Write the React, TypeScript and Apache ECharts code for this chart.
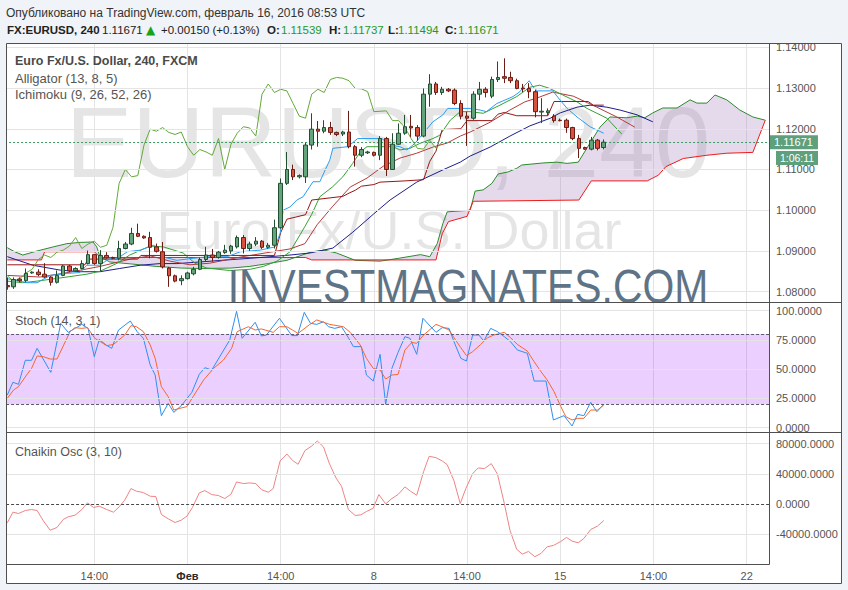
import React, { useEffect, useRef } from "react";
import * as echarts from "echarts";

// ---------------- data ----------------
// bar index -> axis value shift (so that time ticks fall on multiples of 15)
const X_SHIFT = 1;
const X_MAX = 123.6;

// [open, close, low, high], 4h bars
const candles: number[][] = [
  [1.0815, 1.0812, 1.0805, 1.0835], [1.0812, 1.083, 1.0807, 1.0835], [1.0831, 1.0827, 1.0823, 1.0835],
  [1.0827, 1.0845, 1.0823, 1.0857], [1.0846, 1.0848, 1.0844, 1.085], [1.0848, 1.0842, 1.0838, 1.0855],
  [1.0843, 1.0836, 1.0834, 1.087], [1.0836, 1.0823, 1.0815, 1.0838], [1.0823, 1.084, 1.082, 1.0852],
  [1.084, 1.0863, 1.0838, 1.0866], [1.0863, 1.0851, 1.0848, 1.0866], [1.0851, 1.0857, 1.0849, 1.086],
  [1.0857, 1.0869, 1.0855, 1.0877], [1.0869, 1.0891, 1.0867, 1.0901], [1.0891, 1.0869, 1.0866, 1.0892],
  [1.0869, 1.0889, 1.085, 1.0902], [1.0889, 1.0883, 1.0881, 1.0897], [1.0884, 1.0882, 1.088, 1.0886],
  [1.0882, 1.0906, 1.0877, 1.0925], [1.0906, 1.0917, 1.0904, 1.0922], [1.0917, 1.0943, 1.0914, 1.0957],
  [1.0943, 1.0936, 1.0934, 1.0967], [1.0936, 1.0932, 1.093, 1.0938], [1.0933, 1.0909, 1.0882, 1.0947],
  [1.091, 1.0899, 1.0896, 1.0918], [1.0898, 1.0861, 1.0857, 1.0922], [1.0858, 1.0839, 1.0812, 1.0861],
  [1.0839, 1.0826, 1.0823, 1.0842], [1.0827, 1.0832, 1.0816, 1.084], [1.0832, 1.0846, 1.083, 1.0849],
  [1.0844, 1.0855, 1.084, 1.0861], [1.0855, 1.0879, 1.0853, 1.0884], [1.0879, 1.089, 1.0873, 1.091],
  [1.089, 1.0884, 1.0874, 1.0905], [1.0884, 1.0897, 1.0881, 1.09], [1.0896, 1.0902, 1.0893, 1.0915],
  [1.09, 1.0912, 1.0893, 1.0915], [1.091, 1.0933, 1.0906, 1.0938], [1.0933, 1.0906, 1.0894, 1.0939],
  [1.0906, 1.0917, 1.09, 1.0923], [1.0917, 1.0924, 1.0912, 1.0934], [1.0924, 1.0909, 1.0905, 1.0927],
  [1.0909, 1.0914, 1.0905, 1.092], [1.0914, 1.0957, 1.0906, 1.0977], [1.0957, 1.1066, 1.0955, 1.1078],
  [1.1066, 1.11, 1.1062, 1.1143], [1.11, 1.1082, 1.1074, 1.1112], [1.1082, 1.1085, 1.1078, 1.1088],
  [1.1082, 1.116, 1.1067, 1.1166], [1.116, 1.1199, 1.1149, 1.1238], [1.1199, 1.1194, 1.1156, 1.1219],
  [1.1194, 1.1203, 1.1189, 1.1221], [1.1203, 1.1191, 1.1185, 1.1217], [1.1191, 1.1186, 1.1182, 1.1193],
  [1.1187, 1.1192, 1.1182, 1.1195], [1.1192, 1.1156, 1.1152, 1.1244], [1.1156, 1.1135, 1.1107, 1.116],
  [1.1135, 1.1149, 1.113, 1.1155], [1.1141, 1.1143, 1.1138, 1.1146], [1.1142, 1.1135, 1.1132, 1.1144],
  [1.1135, 1.1176, 1.1123, 1.1182], [1.1176, 1.11, 1.1084, 1.118], [1.11, 1.1162, 1.1099, 1.1189],
  [1.1162, 1.1189, 1.116, 1.1213], [1.1189, 1.1205, 1.1185, 1.1234], [1.1206, 1.1202, 1.118, 1.1234],
  [1.1203, 1.1182, 1.1171, 1.1209], [1.1182, 1.1285, 1.1179, 1.1299], [1.1285, 1.131, 1.1254, 1.1334],
  [1.131, 1.1289, 1.1283, 1.1315], [1.1289, 1.1297, 1.1283, 1.1303], [1.1297, 1.1293, 1.129, 1.13],
  [1.1295, 1.1262, 1.1258, 1.1299], [1.1262, 1.1231, 1.1223, 1.127], [1.1231, 1.1226, 1.1158, 1.1242],
  [1.1226, 1.1285, 1.1222, 1.1292], [1.1285, 1.1297, 1.127, 1.1315], [1.1297, 1.1289, 1.1277, 1.1302],
  [1.128, 1.1321, 1.1275, 1.1328], [1.1321, 1.1326, 1.1315, 1.1365], [1.1328, 1.1324, 1.1312, 1.1373],
  [1.1326, 1.1318, 1.1312, 1.134], [1.1318, 1.1299, 1.1297, 1.1323], [1.13, 1.1298, 1.129, 1.131],
  [1.1299, 1.1291, 1.1275, 1.1312], [1.1291, 1.1242, 1.1228, 1.1295], [1.1241, 1.1243, 1.1214, 1.1275],
  [1.124, 1.1244, 1.1232, 1.125], [1.1231, 1.122, 1.1215, 1.1236], [1.1221, 1.122, 1.1218, 1.1225],
  [1.1221, 1.1203, 1.119, 1.1225], [1.1203, 1.1176, 1.1172, 1.1205], [1.1176, 1.1152, 1.1128, 1.1185],
  [1.1154, 1.115, 1.1148, 1.1156], [1.115, 1.1172, 1.1147, 1.118], [1.1172, 1.1152, 1.1147, 1.1175],
  [1.11539, 1.11671, 1.11494, 1.11737],
];

// Ichimoku (9, 26, 52, 26): [bar index, price]
const tenkan: number[][] = [
  [0, 1.0832], [3.2, 1.0822], [4.8, 1.0822], [6.9, 1.084], [9.6, 1.0845], [11.7, 1.0847], [12.8, 1.0865],
  [14.9, 1.0865], [16.5, 1.0882], [17.8, 1.0882], [19.3, 1.0898], [21.4, 1.0902], [23.5, 1.0914], [24.1, 1.091],
  [25.1, 1.0885], [27.3, 1.0877], [29.9, 1.0882], [32.6, 1.0886], [35.4, 1.0886], [37.5, 1.0898], [40.7, 1.0902],
  [43.1, 1.091], [43.9, 1.0943], [44.4, 1.1], [45.5, 1.1008], [46.6, 1.1025], [47.6, 1.1033], [49.2, 1.107],
  [50.3, 1.107], [51.9, 1.1123], [52.4, 1.1152], [54.8, 1.1156], [56.4, 1.1176], [60.3, 1.1176], [61.6, 1.116],
  [63.2, 1.1156], [64.3, 1.1148], [65.6, 1.1164], [68.5, 1.1217], [70.1, 1.1234], [70.9, 1.125], [74.5, 1.125],
  [76.1, 1.1246], [77.1, 1.1242], [78.8, 1.1262], [81.4, 1.1279], [82.5, 1.1291], [83.3, 1.1307], [84, 1.1318],
  [84.6, 1.1303], [85.3, 1.1293], [87.8, 1.1293], [89, 1.127], [90.1, 1.125], [91.7, 1.1229], [93.8, 1.1205],
  [94.9, 1.1197], [96, 1.1189],
];
const kijun: number[][] = [
  [0, 1.0866], [12.5, 1.0866], [13, 1.088], [21, 1.088], [21.5, 1.0889], [43, 1.0889], [44, 1.0945], [45, 1.0978],
  [48, 1.0989], [49, 1.1025], [54, 1.1034], [55, 1.1042], [56, 1.1049], [57, 1.1059], [59, 1.1063], [60, 1.1069],
  [64, 1.1072], [67, 1.1075], [68, 1.112], [69, 1.1145], [70, 1.1198], [73, 1.12], [74, 1.122], [78, 1.122],
  [79, 1.1236], [80, 1.124], [82, 1.1232], [87, 1.1232], [88, 1.1267], [93.5, 1.1267], [94.3, 1.1258], [96, 1.1258],
];
const spanA: number[][] = [
  [0, 1.0908], [1.2, 1.0898], [2.5, 1.089], [4.8, 1.09], [7.4, 1.091], [9.6, 1.0918], [11.7, 1.0921], [13.8, 1.0922],
  [14.4, 1.091], [14.9, 1.0886], [16.5, 1.0873], [20, 1.0868], [24, 1.0862], [28, 1.0858], [31, 1.0857], [36, 1.0858],
  [39, 1.0862], [42, 1.0869], [45, 1.0877], [49, 1.0898], [51, 1.0902], [53, 1.0895], [56, 1.0877], [60, 1.0875],
  [63, 1.0882], [66.5, 1.0891], [68, 1.0886], [69.2, 1.0918], [70.1, 1.0967], [70.8, 1.0996], [74.5, 1.1],
  [75.3, 1.1047], [76.6, 1.105], [78, 1.1066], [79, 1.1089], [80.6, 1.1094], [82, 1.1103], [82.8, 1.1111],
  [86.2, 1.1116], [88.5, 1.1118], [90.1, 1.1115], [91.9, 1.1118], [93.8, 1.1165], [95.4, 1.1204], [97, 1.1229],
  [99.7, 1.1227], [101.4, 1.1231], [102.6, 1.1227], [103.9, 1.1239], [105.5, 1.1251], [107.8, 1.1251],
  [109.9, 1.1271], [111, 1.1263], [112.6, 1.1263], [113.9, 1.1283], [115.8, 1.1271], [117.9, 1.1246],
  [120, 1.1229], [122, 1.1221],
];
const spanB: number[][] = [
  [0, 1.0878], [5.5, 1.0878], [6, 1.0898], [14, 1.0898], [15, 1.0884], [48, 1.0884], [49, 1.0878], [69, 1.0878],
  [70, 1.0942], [71, 1.0972], [74, 1.0985], [75, 1.1022], [92, 1.1025], [94, 1.1072], [103, 1.1072],
  [104.8, 1.1086], [106, 1.1107], [108.8, 1.1127], [112.6, 1.1135], [115.8, 1.114], [120, 1.1142], [122, 1.1221],
];

// Alligator (13, 8, 5)
const jaw: number[][] = [
  [0, 1.0886], [4.1, 1.0865], [8.5, 1.0853], [11.7, 1.0849], [14.9, 1.0849], [18.1, 1.0857], [21.4, 1.0865],
  [24.6, 1.0869], [27.3, 1.0869], [31, 1.0873], [36.3, 1.0879], [39.1, 1.0882], [42.3, 1.0886], [45.5, 1.089],
  [48.7, 1.0895], [52.4, 1.0907], [55.6, 1.0946], [58.9, 1.099], [61.6, 1.1025], [65.9, 1.1069], [70.1, 1.1099],
  [72.9, 1.1118], [74.5, 1.1133], [77.7, 1.1155], [80.9, 1.1182], [84.1, 1.1207], [87.4, 1.1226], [89, 1.1239],
  [91.7, 1.1253], [93.8, 1.1258], [96.5, 1.1253], [98.6, 1.1246], [101.4, 1.1234], [103.9, 1.1217],
];
const teeth: number[][] = [
  [0, 1.084], [5.3, 1.0836], [10.1, 1.0848], [14.9, 1.0862], [19.8, 1.088], [23, 1.0888], [26.2, 1.0875],
  [29.4, 1.0866], [32.6, 1.087], [37.5, 1.0885], [42.3, 1.0897], [45.5, 1.0905], [47.9, 1.0918], [49.9, 1.0965],
  [52.4, 1.101], [55.2, 1.1057], [57.9, 1.1079], [60.5, 1.1108], [63.2, 1.1128], [65.9, 1.114], [68.5, 1.1155],
  [70.8, 1.1165], [72.9, 1.1182], [74.5, 1.1192], [77.7, 1.1216], [80.9, 1.1246], [83.3, 1.1266], [85.7, 1.1278],
  [87.8, 1.129], [91.1, 1.128], [94.9, 1.1253], [98.1, 1.1229], [101, 1.1204],
];
const lips: number[][] = [
  [0, 1.0826], [2.5, 1.0822], [4.8, 1.0826], [7.7, 1.0832], [9.6, 1.0836], [12.8, 1.0843], [14.9, 1.085],
  [17.7, 1.087], [19.7, 1.089], [23, 1.0912], [25.1, 1.091], [28.3, 1.0895], [30.2, 1.087], [32.1, 1.0858],
  [35.8, 1.0852], [39.1, 1.0855], [41.2, 1.0862], [43.4, 1.0875], [45.5, 1.0898], [47.9, 1.096], [49, 1.099],
  [50.3, 1.1033], [52.4, 1.1058], [54, 1.1082], [55.6, 1.1115], [56.8, 1.1143], [57.9, 1.1156], [62.1, 1.1156],
  [63.2, 1.1148], [64.8, 1.1152], [66.4, 1.1164], [68.5, 1.1176], [69.6, 1.1184], [71.3, 1.1221], [72.9, 1.1242],
  [74.5, 1.1242], [76.6, 1.1238], [79.3, 1.1258], [82, 1.1279], [84.1, 1.1302], [85.7, 1.1307], [87.3, 1.1299],
  [89.4, 1.1283], [91.7, 1.1266], [93.3, 1.125], [94.9, 1.1238], [96.5, 1.1226], [98.9, 1.1187],
];

// Stoch (14, 3, 1)
const stochK: number[][] = [
  [0, 27.9], [0.9, 38.8], [1.8, 37.1], [2.9, 57.6], [3.9, 57.6], [4.8, 67.8], [7, 47.3], [8.6, 89.2], [9.8, 81.5],
  [12, 88.3], [13, 84.9], [14, 60.7], [14.8, 75.5], [15.9, 70.7], [16.8, 67.8], [17.9, 83.5], [19.8, 91.2],
  [20.9, 82.1], [21.9, 76.4], [23, 53.6], [23.8, 45], [24.8, 10.3], [25.9, 20.8], [26.8, 13.1], [28.1, 19.4],
  [29.7, 30.2], [30.9, 45.6], [31.8, 51.3], [32.9, 49.3], [35.8, 74.9], [36.9, 99.5], [37.8, 76.4], [39.9, 90.1],
  [40.9, 78.4], [41.7, 79.2], [43.8, 93.5], [45.8, 78.7], [46.7, 78.7], [47.8, 98.6], [48.8, 89.2], [49.8, 88.3],
  [50.9, 90.6], [51.7, 86.3], [52.7, 84.9], [53.8, 86.3], [54.9, 76.9], [55.7, 69.3], [57, 69.3], [57.8, 45],
  [58.9, 39.9], [60, 62.7], [60.9, 20], [61.9, 50.7], [62.9, 64.4], [64, 77.8], [64.8, 76.4], [65.9, 62.7],
  [66.9, 93.5], [69, 81.5], [70, 85.5], [71.1, 84.9], [71.9, 73.5], [73, 59.3], [73.9, 57], [74.9, 79.2],
  [75.9, 79.2], [76.7, 74.1], [77.8, 84.9], [78.9, 82.1], [80, 77.8], [81, 73.5], [82.1, 66.4], [83.7, 63.6],
  [84.8, 39.9], [86.7, 39.9], [87.9, 6.6], [89.6, 10.3], [90.9, 1.5], [91.8, 11.4], [92.8, 10.3], [93.9, 21.7],
  [94.9, 13.7], [96, 20],
];
const stochD: number[][] = [
  [0, 25.1], [1, 32.2], [1.8, 35.1], [3.1, 45], [3.9, 50.7], [4.8, 61.3], [5.8, 60.7], [6.9, 58.7], [8, 58.7],
  [10.1, 82.1], [10.9, 85.5], [12, 84.9], [12.9, 85.5], [14.1, 76.4], [16, 70.1], [17.1, 71.2], [18.9, 79.2],
  [19.9, 87.2], [20.8, 86.3], [21.9, 82.1], [23, 70.7], [23.8, 59.3], [24.8, 35.1], [25.9, 26.5], [26.8, 15.1],
  [27.8, 16.6], [28.9, 18], [29.9, 26.5], [31.6, 40.8], [33.2, 50.7], [34.8, 57.9], [36.1, 67.8], [37, 82.1],
  [38.8, 86.3], [39.9, 83.5], [40.9, 84.4], [42.8, 81.5], [43.8, 86.3], [45, 86.3], [45.9, 83.5], [46.8, 80.6],
  [48.7, 88.3], [49.8, 92.1], [50.9, 90.1], [51.9, 88.3], [54.1, 86.3], [55.2, 81.5], [56.8, 70.7], [57.8, 59.3],
  [58.9, 50.7], [60, 49.3], [60.9, 41.6], [61.9, 45], [62.9, 45.6], [64, 66.4], [65.1, 72.9], [65.9, 72.1],
  [67, 79.2], [69, 88.3], [70.3, 85.5], [71.1, 83.5], [71.9, 76.9], [73, 68.4], [73.9, 61.6], [74.9, 65],
  [76.2, 71.2], [77.3, 76.9], [78.3, 79.2], [80, 81.5], [81, 76.9], [82.1, 71.2], [83.7, 65.5], [84.8, 56.4],
  [85.9, 47.9], [86.9, 40.8], [88, 30.8], [89.1, 18], [89.9, 9.4], [90.9, 6.6], [91.8, 8], [92.8, 8], [93.9, 15.1],
  [95, 15.1], [96, 19.4],
];

// Chaikin Osc (3, 10)
const chaikin: number[][] = [
  [0, -24640], [0.9, -10560], [1.8, -12320], [2.9, -8360], [3.9, -7040], [4.8, -8360], [5.8, -22000],
  [6.9, -34320], [8, -30800], [9, -20240], [9.8, -16720], [10.9, -14520], [12, -7040], [12.9, 1760],
  [13.9, -4400], [14.8, -2640], [16, -7040], [17.1, -10560], [18, -3520], [18.9, 5280], [19.9, 20680],
  [20.8, 17160], [21.9, 15400], [23, 10560], [23.9, 10120], [24.8, -13640], [25.9, -19360], [27, -24200],
  [28, -21120], [28.9, -15840], [29.8, -4400], [30.9, 14960], [31.8, 18040], [32.9, 12760], [34, 11440],
  [35, 7480], [36, 13200], [36.9, 29480], [38, 27280], [39, 28160], [40, 27280], [40.9, 19360], [42, 15840],
  [42.8, 20680], [43.9, 57200], [45, 66440], [45.9, 58080], [46.8, 52800], [47.9, 70840], [49, 77000],
  [49.9, 83600], [50.9, 75680], [51.8, 54560], [52.9, 34760], [53.8, 23760], [54.9, -7040], [56, -14960],
  [56.9, -14080], [57.8, -9680], [58.9, -5280], [59.8, 12760], [60.9, 440], [61.9, 7480], [62.9, 12760],
  [64, 22880], [64.9, 17160], [65.9, 11880], [67, 43000], [67.9, 63360], [69, 61600], [70, 57200],
  [70.8, 52360], [71.9, 30800], [72.9, 880], [73.8, 20680], [74.9, 40480], [75.8, 47960], [76.8, 47080],
  [77.9, 53680], [78.9, 39600], [80, 880], [80.9, -34320], [82, -59840], [82.9, -66000], [83.9, -62480],
  [84.9, -69520], [85.9, -65120], [86.9, -56320], [87.9, -54560], [89, -49720], [90, -44000], [90.9, -48840],
  [91.9, -51040], [92.8, -45320], [93.9, -33440], [95, -29040], [96, -21560],
];

const priceTicks = [1.08, 1.09, 1.1, 1.11, 1.12, 1.13, 1.14];
const stochTicks = [0, 25, 50, 75, 100];
const chaikinTicks = [-40000, 0, 40000, 80000];
const timeTickBars = [14, 29, 44, 59, 74, 89, 104, 119];
const timeTickLabels = ["14:00", "Фев", "14:00", "8", "14:00", "15", "14:00", "22"];
const lastPrice = 1.11671;

// ---------------- styling ----------------
const FONT = "'Liberation Sans', Arial, Helvetica, sans-serif";
const BG = "#f0f3f7";
const GRID_COLOR = "#e4e4e4";
const FRAME = "#4f4f4f";
const AXIS_TEXT = "#555555";
const PRICE_GREEN = "#5e9f7c";

const shift = (pts: number[][]) => pts.map(([i, v]) => [i + X_SHIFT, v]);

function lineSeries(pts: number[][], color: string, xi: number, yi: number, z = 3) {
  return {
    type: "line",
    xAxisIndex: xi,
    yAxisIndex: yi,
    data: shift(pts),
    symbol: "none",
    showSymbol: false,
    silent: true,
    z,
    lineStyle: { color, width: 1 },
    itemStyle: { color },
  };
}

function gridLineSeries(xi: number, yi: number, values: number[], extra: any[] = [], area?: any) {
  const s: any = {
    type: "line",
    xAxisIndex: xi,
    yAxisIndex: yi,
    data: [],
    silent: true,
    z: 0,
    symbol: "none",
    markLine: {
      symbol: ["none", "none"],
      silent: true,
      precision: 6,
      label: { show: false },
      lineStyle: { color: GRID_COLOR, width: 1, type: "solid" },
      data: [...values.map((v) => ({ yAxis: v })), ...extra],
    },
  };
  if (area) s.markArea = area;
  return s;
}

function xAxis(gi: number, showLabels: boolean) {
  return {
    type: "value",
    gridIndex: gi,
    min: 0,
    max: X_MAX,
    interval: 15,
    axisLine: { show: false },
    axisTick: { show: false },
    axisLabel: showLabels
      ? {
          show: true,
          color: AXIS_TEXT,
          fontSize: 11,
          fontFamily: FONT,
          margin: 6,
          showMaxLabel: false,
          formatter: (v: number) => {
            const k = timeTickBars.indexOf(Math.round(v) - X_SHIFT);
            if (k < 0) return "";
            const t = timeTickLabels[k];
            return t === "Фев" ? "{m|" + t + "}" : t;
          },
          rich: { m: { color: "#2a2a2a", fontWeight: "bold", fontSize: 11, fontFamily: FONT } },
        }
      : { show: false },
    splitLine: {
      show: true,
      showMinLine: false,
      showMaxLine: false,
      lineStyle: { color: GRID_COLOR, width: 1 },
    },
  };
}

function yAxis(gi: number, min: number, max: number, ticks: number[], digits: number) {
  return {
    type: "value",
    gridIndex: gi,
    position: "right",
    min,
    max,
    axisLine: { show: false },
    splitLine: { show: false },
    axisTick: { show: true, customValues: ticks, length: 4, lineStyle: { color: AXIS_TEXT } },
    axisLabel: {
      show: true,
      customValues: ticks,
      color: AXIS_TEXT,
      fontSize: 11,
      fontFamily: FONT,
      margin: 7,
      formatter: (v: number) => v.toFixed(digits),
    },
  };
}

function txt(x: number, y: number, text: string, opts: any = {}) {
  return {
    type: "text",
    x,
    y,
    z: opts.z ?? 60,
    silent: true,
    scaleX: opts.scaleX ?? 1,
    style: {
      text,
      fill: opts.fill ?? "#333",
      fontSize: opts.fontSize ?? 12,
      fontFamily: opts.fontFamily ?? FONT,
      fontWeight: opts.fontWeight ?? "normal",
      align: opts.align ?? "left",
      textAlign: opts.align ?? "left",
      verticalAlign: "middle",
      textVerticalAlign: "middle",
    },
  };
}

function hline(x1: number, x2: number, y: number) {
  return { type: "line", z: 70, silent: true, shape: { x1, y1: y, x2, y2: y }, style: { stroke: FRAME, lineWidth: 1 } };
}
function vline(x: number, y1: number, y2: number) {
  return { type: "line", z: 70, silent: true, shape: { x1: x, y1, x2: x, y2 }, style: { stroke: FRAME, lineWidth: 1 } };
}

export default function App() {
  const ref = useRef<HTMLDivElement>(null);

  useEffect(() => {
    if (!ref.current) return;
    const chart = echarts.init(ref.current, null, { renderer: "svg", width: 848, height: 590 });

    const chikou = candles.slice(26).map((c, k) => [k, c[1]]);
    const green = "#1f9a1f";

    const graphic: any[] = [
      { type: "rect", z: -100, silent: true, shape: { x: 6.5, y: 43.5, width: 835, height: 540 }, style: { fill: "#ffffff" } },
      txt(388, 142, "EURUSD, 240", { fontSize: 100, fill: "rgba(0,0,0,0.1)", align: "center", z: -50 }),
      txt(389, 229.5, "Euro Fx/U.S. Dollar", { fontSize: 54, fill: "rgba(0,0,0,0.1)", align: "center", z: -50 }),
      txt(468, 286, "INVESTMAGNATES.COM", { fontSize: 49, fill: "#5e7385", align: "center", z: 40, scaleX: 0.834 }),
      // left mask (outside the frame)
      { type: "rect", z: 65, silent: true, shape: { x: 0, y: 40, width: 6, height: 550 }, style: { fill: BG } },
      // frame and pane separators
      hline(6.5, 841.5, 43.5),
      hline(6.5, 841.5, 583.5),
      vline(6.5, 43.5, 583.5),
      vline(841.5, 43.5, 583.5),
      hline(6.5, 841.5, 302.5),
      hline(6.5, 841.5, 432.5),
      vline(769.5, 43.5, 564.5),
      hline(6.5, 769.5, 564.5),
      // pane legends
      txt(15, 61, "Euro Fx/U.S. Dollar, 240, FXCM", { fontSize: 12.5, fontWeight: "bold", fill: "#4a4a4a" }),
      txt(15, 78, "Alligator (13, 8, 5)", { fontSize: 13, fill: "#555" }),
      txt(15, 94.5, "Ichimoku (9, 26, 52, 26)", { fontSize: 13, fill: "#555" }),
      txt(15, 321, "Stoch (14, 3, 1)", { fontSize: 12.5, fill: "#555" }),
      txt(15, 451.5, "Chaikin Osc (3, 10)", { fontSize: 12.5, fill: "#555" }),
      // header
      txt(6, 12.5, "Опубликовано на TradingView.com, февраль 16, 2016 08:53 UTC", { fontSize: 12, fill: "#333" }),
      txt(7, 29.5, "FX:EURUSD, 240", { fontSize: 11.5, fontWeight: "bold", fill: "#222" }),
      txt(102, 29.5, "1.11671", { fontSize: 11.5, fill: "#222" }),
      txt(146, 29.5, "▲", { fontSize: 12, fill: "#19a319", fontFamily: "'DejaVu Sans', sans-serif" }),
      txt(161, 29.5, "+0.00150 (+0.13%)", { fontSize: 11.5, fill: "#222" }),
      txt(267, 29.5, "O:", { fontSize: 11.5, fontWeight: "bold", fill: "#222" }),
      txt(281, 29.5, "1.11539", { fontSize: 11.5, fill: green }),
      txt(329, 29.5, "H:", { fontSize: 11.5, fontWeight: "bold", fill: "#222" }),
      txt(343, 29.5, "1.11737", { fontSize: 11.5, fill: green }),
      txt(388, 29.5, "L:", { fontSize: 11.5, fontWeight: "bold", fill: "#222" }),
      txt(398, 29.5, "1.11494", { fontSize: 11.5, fill: green }),
      txt(445, 29.5, "C:", { fontSize: 11.5, fontWeight: "bold", fill: "#222" }),
      txt(458, 29.5, "1.11671", { fontSize: 11.5, fill: green }),
      // countdown box
      { type: "rect", z: 70, silent: true, shape: { x: 776, y: 151, width: 42, height: 14 }, style: { fill: PRICE_GREEN } },
      txt(797, 158, "1:06:11", { fontSize: 10.5, fill: "#ffffff", align: "center", z: 71 }),
    ];

    const option: any = {
      animation: false,
      backgroundColor: BG,
      grid: [
        { left: 1.09, top: 43, width: 767.91, height: 259.5, outerBoundsMode: "none" },
        { left: 1.09, top: 303, width: 767.91, height: 129.5, outerBoundsMode: "none" },
        { left: 1.09, top: 433, width: 767.91, height: 131.5, outerBoundsMode: "none" },
      ],
      xAxis: [xAxis(0, false), xAxis(1, false), xAxis(2, true)],
      yAxis: [
        yAxis(0, 1.077346, 1.141057, priceTicks, 5),
        yAxis(1, -4.1, 106.58, stochTicks, 4),
        yAxis(2, -79777, 94200, chaikinTicks, 4),
      ],
      graphic,
      series: [
        gridLineSeries(0, 0, priceTicks),
        {
          type: "custom",
          xAxisIndex: 0,
          yAxisIndex: 0,
          silent: true,
          z: 1,
          data: [[spanA[0][0] + X_SHIFT, spanA[0][1]]],
          renderItem: (_params: any, api: any) => {
            const top = spanA.map(([i, v]) => api.coord([i + X_SHIFT, v]));
            const bottom = spanB
              .slice()
              .reverse()
              .map(([i, v]) => api.coord([i + X_SHIFT, v]));
            return {
              type: "polygon",
              shape: { points: top.concat(bottom) },
              style: { fill: "rgba(160,120,185,0.27)" },
            };
          },
        },
        lineSeries(spanA, "#2c8a2c", 0, 0, 2),
        lineSeries(spanB, "#f01a1a", 0, 0, 2),
        lineSeries(jaw, "#1d1d8c", 0, 0, 3),
        lineSeries(teeth, "#b33b3b", 0, 0, 3),
        lineSeries(lips, "#34a034", 0, 0, 3),
        lineSeries(kijun, "#991515", 0, 0, 3),
        lineSeries(tenkan, "#2a9df4", 0, 0, 3),
        lineSeries(chikou, "#62a83a", 0, 0, 3),
        {
          type: "candlestick",
          xAxisIndex: 0,
          yAxisIndex: 0,
          silent: true,
          z: 5,
          barWidth: 4,
          encode: { x: 0, y: [1, 2, 3, 4] },
          data: candles.map((c, i) => [i + X_SHIFT, c[0], c[1], c[2], c[3]]),
          itemStyle: {
            color: "#64a47d",
            color0: "#d8513d",
            borderColor: "#224f31",
            borderColor0: "#6a1d14",
            borderWidth: 1,
          },
        },
        // last price line with its axis label
        {
          type: "line",
          xAxisIndex: 0,
          yAxisIndex: 0,
          data: [],
          silent: true,
          z: 6,
          symbol: "none",
          markLine: {
            symbol: ["none", "none"],
            silent: true,
            precision: 5,
            lineStyle: { color: "#3e9a62", type: [2, 2], width: 1 },
            label: {
              show: true,
              position: "end",
              distance: 0,
              formatter: lastPrice.toFixed(5),
              color: "#ffffff",
              backgroundColor: PRICE_GREEN,
              padding: [2, 5, 1, 5],
              fontSize: 11,
              fontFamily: FONT,
            },
            data: [{ yAxis: lastPrice }],
          },
        },
        gridLineSeries(
          1,
          1,
          stochTicks,
          [
            { yAxis: 80, lineStyle: { color: "#5a5a6a", type: [3, 2], width: 1 } },
            { yAxis: 20, lineStyle: { color: "#5a5a6a", type: [3, 2], width: 1 } },
          ],
          {
            silent: true,
            itemStyle: { color: "rgba(153,21,255,0.2)" },
            data: [[{ yAxis: 20 }, { yAxis: 80 }]],
          }
        ),
        lineSeries(stochK, "#2f8ff0", 1, 1, 3),
        lineSeries(stochD, "#f4672f", 1, 1, 4),
        gridLineSeries(2, 2, [-40000, 40000, 80000], [
          { yAxis: 0, lineStyle: { color: "#4a4a4a", type: [3, 2], width: 1 } },
        ]),
        lineSeries(chaikin, "#f08383", 2, 2, 3),
      ],
    };

    chart.setOption(option);
    return () => chart.dispose();
  }, []);

  return <div ref={ref} style={{ position: "fixed", left: 0, top: 0, width: 848, height: 590 }} />;
}
